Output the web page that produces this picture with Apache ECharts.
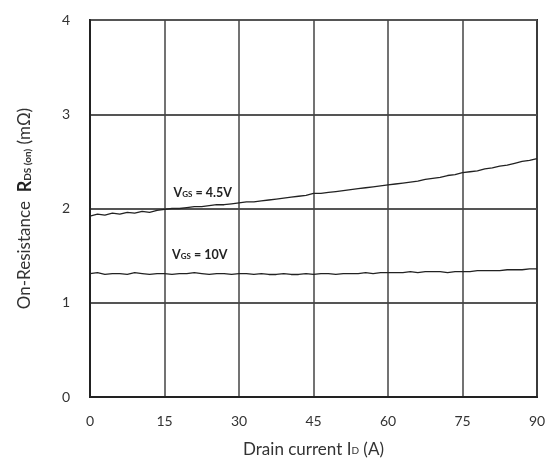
<!DOCTYPE html>
<html>
<head>
<meta charset="utf-8">
<script src="https://cdn.jsdelivr.net/npm/echarts@6/dist/echarts.min.js"></script>
<style>html,body{margin:0;padding:0;background:#fff}#c{width:550px;height:463px}</style>
</head>
<body>
<div id="c"></div>
<script>
const currents = [0,1.5,3,4.5,6,7.5,9,10.5,12,13.5,15,16.5,18,19.5,21,22.5,24,25.5,27,28.5,30,31.5,33,34.5,36,37.5,39,40.5,42,43.5,45,46.5,48,49.5,51,52.5,54,55.5,57,58.5,60,61.5,63,64.5,66,67.5,69,70.5,72,73.5,75,76.5,78,79.5,81,82.5,84,85.5,87,88.5,90];
const rdsVgs45 = [1.92,1.94,1.93,1.95,1.94,1.96,1.95,1.97,1.96,1.98,1.99,2.00,2.00,2.01,2.02,2.02,2.03,2.04,2.04,2.05,2.06,2.07,2.07,2.08,2.09,2.10,2.11,2.12,2.13,2.14,2.16,2.16,2.17,2.18,2.19,2.20,2.21,2.22,2.23,2.24,2.25,2.26,2.27,2.28,2.29,2.31,2.32,2.33,2.35,2.36,2.38,2.39,2.40,2.42,2.43,2.45,2.46,2.48,2.50,2.51,2.53];
const rdsVgs10 = [1.31,1.32,1.30,1.31,1.31,1.30,1.32,1.31,1.30,1.31,1.31,1.30,1.31,1.31,1.32,1.31,1.30,1.31,1.31,1.30,1.31,1.31,1.30,1.31,1.30,1.30,1.31,1.30,1.30,1.31,1.30,1.31,1.31,1.30,1.31,1.31,1.31,1.32,1.31,1.32,1.32,1.32,1.32,1.33,1.32,1.33,1.33,1.33,1.32,1.33,1.33,1.33,1.34,1.34,1.34,1.34,1.35,1.35,1.35,1.36,1.36];
const xTicks = [0,15,30,45,60,75,90];
const yTicks = [0,1,2,3,4];
const labels = [
  {name:'4.5V', at:[22.7, 2.17]},
  {name:'10V', at:[22.1, 1.51]}
];

const font = 'Lato, "Open Sans", sans-serif';
const pair = (xs, ys) => xs.map((x,i)=>[x, ys[i]]);
const chart = echarts.init(document.getElementById('c'));
const vRich = {
  v:{fontFamily:font,fontSize:12.5,fontWeight:'bold',color:'#222'},
  s:{fontFamily:font,fontSize:8,fontWeight:'bold',color:'#222',padding:[3,0,0,0]}
};
function mp(lbl){
  return {
    symbol:'rect',symbolSize:1,
    itemStyle:{color:'rgba(0,0,0,0)'},
    label:{show:true,position:'inside',color:'#222',formatter:'{v|V}{s|GS}{v| = '+lbl.name+'}',rich:vRich},
    data:[{coord:lbl.at,value:0}]
  };
}
chart.setOption({
  animation:false,
  backgroundColor:'#fff',
  grid:{left:90,top:20,right:13,bottom:65,show:true,borderColor:'#222',borderWidth:2,backgroundColor:'transparent'},
  xAxis:{
    type:'value',min:0,max:90,interval:15,
    name:'{t|Drain current I}{d|D}{t| (A)}',
    nameLocation:'middle',nameGap:44,
    nameTextStyle:{rich:{t:{fontFamily:font,fontSize:17,color:'#333'},d:{fontFamily:font,fontSize:10,color:'#333',padding:[3,0,0,0]}}},
    axisLine:{show:true,lineStyle:{color:'#222',width:2}},
    axisTick:{show:false},
    axisLabel:{fontFamily:font,fontSize:14,color:'#333',margin:17,customValues:xTicks},
    splitLine:{show:true,lineStyle:{color:'#444',width:1.5}}
  },
  yAxis:{
    type:'value',min:0,max:4,interval:1,
    name:'{t|On-Resistance  }{r|R}{s|DS (on)}{t| (mΩ)}',
    nameLocation:'middle',nameGap:56,
    nameTextStyle:{rich:{
      t:{fontFamily:font,fontSize:17,color:'#333'},
      r:{fontFamily:font,fontSize:18,color:'#222',fontWeight:'bold'},
      s:{fontFamily:font,fontSize:10,color:'#333',fontWeight:'bold',padding:[6,0,0,0]}
    }},
    axisLine:{show:true,lineStyle:{color:'#222',width:2}},
    axisTick:{show:false},
    axisLabel:{fontFamily:font,fontSize:14,color:'#333',margin:20,customValues:yTicks},
    splitLine:{show:true,lineStyle:{color:'#555',width:2}}
  },
  series:[
    {type:'line',data:pair(currents,rdsVgs45),showSymbol:false,lineStyle:{color:'#222',width:1.3},markPoint:mp(labels[0]),silent:true},
    {type:'line',data:pair(currents,rdsVgs10),showSymbol:false,lineStyle:{color:'#222',width:1.3},markPoint:mp(labels[1]),silent:true}
  ]
});
</script>
</body>
</html>
